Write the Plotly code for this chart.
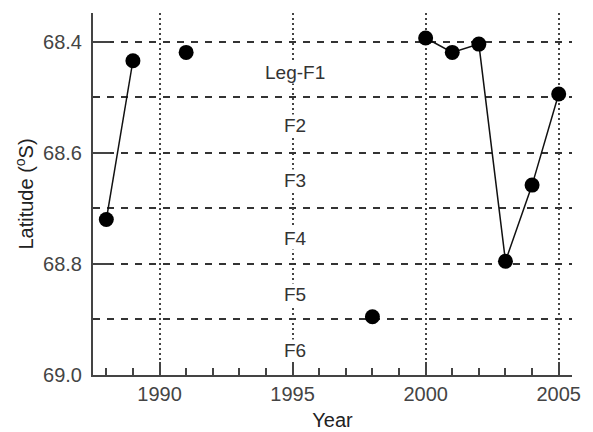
import plotly.graph_objects as go

years = [1988, 1989, None, 1991, None, 1998, None, 2000, 2001, 2002, 2003, 2004, 2005]
latitudes = [68.72, 68.434, None, 68.419, None, 68.895, None, 68.393, 68.419, 68.404, 68.795, 68.658, 68.494]

zone_labels = ["Leg-F1", "F2", "F3", "F4", "F5", "F6"]
zone_y = [68.455, 68.551, 68.65, 68.755, 68.855, 68.955]
zone_x = 1995.1

x_ticks = [1990, 1995, 2000, 2005]
y_ticks = [68.4, 68.6, 68.8, 69.0]

font_family = "Liberation Sans, Arial, sans-serif"
axis_color = "#444444"

fig = go.Figure()
fig.add_trace(go.Scatter(
    x=years, y=latitudes, mode="lines+markers",
    line=dict(color="#111111", width=1.5),
    marker=dict(color="#000000", size=15, symbol="circle"),
    connectgaps=False, showlegend=False,
))

for lab, yv in zip(zone_labels, zone_y):
    fig.add_annotation(x=zone_x, y=yv, text=lab, showarrow=False,
                       font=dict(family=font_family, size=19, color="#333333"),
                       bgcolor="white", borderpad=0,
                       xanchor="center", yanchor="middle")

fig.update_layout(
    width=593, height=432,
    margin=dict(l=93, r=21, t=13, b=57, autoexpand=False),
    paper_bgcolor="white", plot_bgcolor="white",
    font=dict(family=font_family, size=19, color=axis_color),
)

fig.update_xaxes(
    range=[1987.5, 2005.5],
    tickvals=x_ticks, ticktext=[str(v) for v in x_ticks],
    ticks="inside", ticklen=13, tickwidth=2, tickcolor=axis_color,
    showline=True, linecolor=axis_color, linewidth=2,
    showgrid=True, gridcolor="#444444", gridwidth=2, griddash="2px,3px",
    minor=dict(dtick=1, tick0=1988, ticks="inside", ticklen=7, tickwidth=1.5, tickcolor=axis_color, showgrid=False),
    tickfont=dict(size=20, color=axis_color),
    title=dict(text="Year", font=dict(size=20, color="#222222"), standoff=9),
    zeroline=False, mirror=False, automargin=False,
)

fig.update_yaxes(
    range=[69.0, 68.348],
    tickvals=y_ticks, ticktext=[f"{v:.1f}" for v in y_ticks],
    ticks="inside", ticklen=17, tickwidth=2, tickcolor=axis_color,
    showline=True, linecolor=axis_color, linewidth=2,
    showgrid=True, gridcolor="#333333", gridwidth=2, griddash="7px,7px",
    minor=dict(dtick=0.1, tick0=68.4, showgrid=True, gridcolor="#333333", gridwidth=2, griddash="7px,7px", ticks=""),
    tickfont=dict(size=20, color=axis_color),
    ticklabelstandoff=5,
    title=dict(text="Latitude (<sup>o</sup>S)", font=dict(size=20, color="#222222"), standoff=4),
    zeroline=False, mirror=False, automargin=False,
)

fig.write_html("out.html")
